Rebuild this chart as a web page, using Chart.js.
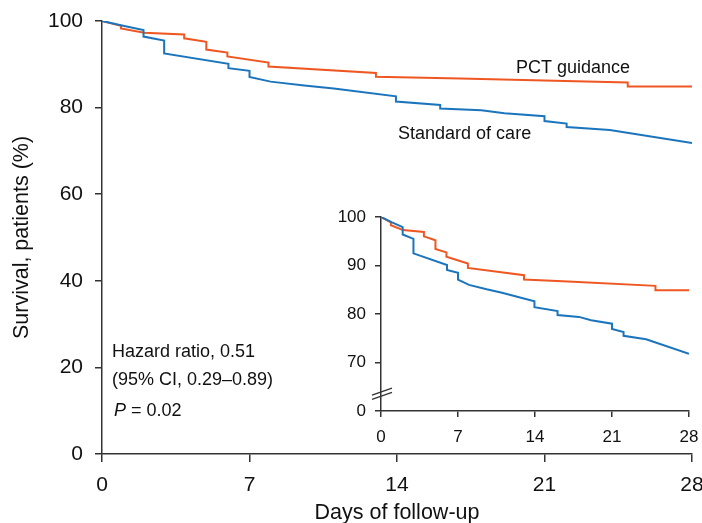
<!DOCTYPE html>
<html>
<head>
<meta charset="utf-8">
<script src="https://cdn.jsdelivr.net/npm/chart.js@4"></script>
<style>
  html, body { margin: 0; padding: 0; background: #fff; }
  #wrap { position: relative; width: 702px; height: 523px; }
  #mainChart { position: absolute; left: 0; top: 0; }
  #insetChart { position: absolute; left: 330px; top: 200px; }
</style>
</head>
<body>
<div id="wrap">
  <canvas id="mainChart" width="702" height="523"></canvas>
  <canvas id="insetChart" width="372" height="250"></canvas>
</div>
<script>
// Kaplan-Meier curves (days, survival %)
const pctDays     = [0, 0.9, 0.9, 2, 3.9, 3.9, 4.95, 4.95, 5.95, 5.95, 7.9, 7.9, 13, 13, 17, 24.95, 24.95, 28];
const pctSurvival = [100, 98.9, 98.3, 97.3, 96.9, 96.0, 95.2, 93.4, 92.7, 91.8, 90.4, 89.5, 88.0, 87.1, 86.7, 85.8, 84.9, 84.9];

const socDays     = [0, 1.0, 1.97, 1.97, 2.95, 2.95, 6.0, 6.0, 7.0, 7.0, 8.0, 9.6, 11, 13.95, 13.95, 16.05, 16.05, 18, 19.1, 21, 21, 22.05, 22.05, 24.1, 28];
const socSurvival = [100, 98.9, 97.9, 96.4, 95.5, 92.5, 90.1, 89.1, 88.5, 87.1, 86.0, 85.1, 84.4, 82.6, 81.4, 80.6, 79.8, 79.4, 78.7, 78.0, 76.9, 76.3, 75.5, 74.8, 71.8];

const dayTicks = [0, 7, 14, 21, 28];
const mainYTicks = [0, 20, 40, 60, 80, 100];
const insetYTicks = [60, 70, 80, 90, 100];   // 60 is shown as "0" (broken axis)

const ORANGE = '#ef5722';
const BLUE = '#1b75bc';
const AXIS = '#333';
const FONT = '"Liberation Sans", Arial, Helvetica, sans-serif';

function toPoints(xs, ys) {
  return xs.map((x, i) => ({ x: x, y: ys[i] }));
}

function series(label, xs, ys, color) {
  return {
    label: label,
    data: toPoints(xs, ys),
    borderColor: color,
    borderWidth: 2,
    pointRadius: 0,
    tension: 0,
    fill: false
  };
}

// text labels placed in data coordinates
const notesPlugin = {
  id: 'notes',
  afterDraw(chart) {
    const { ctx, scales: { x, y } } = chart;
    ctx.save();
    ctx.fillStyle = '#111';
    ctx.textBaseline = 'middle';
    ctx.textAlign = 'left';
    ctx.font = '18px ' + FONT;
    ctx.fillText('PCT guidance', x.getPixelForValue(19.65), y.getPixelForValue(89.2));
    ctx.fillText('Standard of care', x.getPixelForValue(14.05), y.getPixelForValue(73.8));
    const lx = x.getPixelForValue(0.47);
    ctx.fillText('Hazard ratio, 0.51', lx, y.getPixelForValue(23.6));
    ctx.fillText('(95% CI, 0.29\u20130.89)', lx, y.getPixelForValue(17.1));
    const py = y.getPixelForValue(9.9);
    ctx.font = 'italic 18px ' + FONT;
    ctx.fillText('P', lx + 2, py);
    const w = ctx.measureText('P').width;
    ctx.font = '18px ' + FONT;
    ctx.fillText(' = 0.02', lx + 2 + w, py);
    ctx.restore();
  }
};

// axis break marks on the inset y axis
const breakPlugin = {
  id: 'axisBreak',
  afterDraw(chart) {
    const { ctx, scales: { x, y } } = chart;
    const ax = x.getPixelForValue(0);
    ctx.save();
    ctx.strokeStyle = AXIS;
    ctx.lineWidth = 1.3;
    [63.1, 64.0].forEach(v => {
      const py = y.getPixelForValue(v);
      ctx.beginPath();
      ctx.moveTo(ax - 9, py + 3.5);
      ctx.lineTo(ax + 11, py - 3.5);
      ctx.stroke();
    });
    ctx.restore();
  }
};

function axisBase(tickLength, ticksOpt, fontSize) {
  return {
    type: 'linear',
    grid: { display: true, drawOnChartArea: false, drawTicks: true, tickLength: tickLength, color: AXIS, lineWidth: 1.5 },
    border: { display: true, color: AXIS, width: 1.5 },
    ticks: Object.assign({ color: '#111', font: { family: FONT, size: fontSize }, autoSkip: false, maxRotation: 0 }, ticksOpt)
  };
}

const mainX = axisBase(8, { padding: 11, stepSize: 7 }, 21);
Object.assign(mainX, {
  min: 0, max: 28,
  afterBuildTicks: s => { s.ticks = dayTicks.map(v => ({ value: v })); },
  afterFit: s => { s.height = 69; s.paddingLeft = 0; s.paddingRight = 0; },
  title: { display: true, text: 'Days of follow-up', color: '#111', font: { family: FONT, size: 21.5, lineHeight: 0.9 }, padding: { top: 0, bottom: 0 } }
});
const mainY = axisBase(7, { padding: 12 }, 21);
Object.assign(mainY, {
  min: 0, max: 100,
  afterBuildTicks: s => { s.ticks = mainYTicks.map(v => ({ value: v })); },
  afterFit: s => { s.width = 102; s.paddingTop = 0; s.paddingBottom = 0; },
  title: { display: true, text: 'Survival, patients (%)', color: '#111', font: { family: FONT, size: 21.5 }, padding: { top: 9, bottom: 0 } }
});

new Chart(document.getElementById('mainChart'), {
  type: 'line',
  data: {
    datasets: [
      series('Standard of care', socDays, socSurvival, BLUE),
      series('PCT guidance', pctDays, pctSurvival, ORANGE)
    ]
  },
  options: {
    responsive: false,
    animation: false,
    layout: { padding: { left: 0, right: 10, top: 21, bottom: 0 } },
    plugins: { legend: { display: false }, tooltip: { enabled: false } },
    scales: { x: mainX, y: mainY }
  },
  plugins: [notesPlugin]
});

const insetX = axisBase(6, { padding: 10 }, 17);
Object.assign(insetX, {
  min: 0, max: 28,
  afterBuildTicks: s => { s.ticks = dayTicks.map(v => ({ value: v })); },
  afterFit: s => { s.height = 39; s.paddingLeft = 0; s.paddingRight = 0; }
});
const insetY = axisBase(6, { padding: 9, callback: v => (v === 60 ? '0' : v) }, 17);
Object.assign(insetY, {
  min: 60, max: 100,
  afterBuildTicks: s => { s.ticks = insetYTicks.map(v => ({ value: v })); },
  afterFit: s => { s.width = 51; s.paddingTop = 0; s.paddingBottom = 0; }
});

new Chart(document.getElementById('insetChart'), {
  type: 'line',
  data: {
    datasets: [
      series('Standard of care', socDays, socSurvival, BLUE),
      series('PCT guidance', pctDays, pctSurvival, ORANGE)
    ]
  },
  options: {
    responsive: false,
    animation: false,
    layout: { padding: { left: 0, right: 13, top: 17, bottom: 0 } },
    plugins: { legend: { display: false }, tooltip: { enabled: false } },
    scales: { x: insetX, y: insetY }
  },
  plugins: [breakPlugin]
});
</script>
</body>
</html>
